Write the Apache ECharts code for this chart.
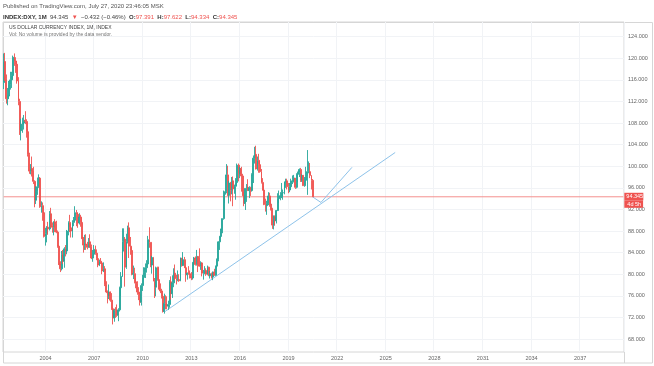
<!DOCTYPE html>
<html><head><meta charset="utf-8">
<script src="https://cdn.jsdelivr.net/npm/echarts@6/dist/echarts.min.js"></script>
<style>html,body{margin:0;padding:0;background:#fff}#c{width:654px;height:366px}</style>
</head><body><div id="c"></div>
<script>
// ---- data ----
const firstMonth = [2001, 6];     // first category (year, month)
const monthCount = 460;           // months shown on the time axis
const tickYears = [2004, 2007, 2010, 2013, 2016, 2019, 2022, 2025, 2028, 2031, 2034, 2037];
const lastPrice = 94.345;

// monthly candles, rows are [open, high, low, close]
const y2001 = [[115.5,120.9,114.3,119.4],[119.4,121.0,115.8,116.3],[116.3,117.0,111.6,112.5],[112.5,114.5,111.3,113.0],[113.0,115.8,112.5,115.2],[115.2,117.5,114.2,116.0],[116.0,117.5,114.5,116.8]];
const y2002 = [[116.8,120.5,116.2,120.2],[120.2,120.9,118.6,119.5],[119.5,120.2,117.3,118.9],[118.9,119.5,115.3,115.8],[115.8,116.5,111.3,112.0],[112.0,112.5,105.8,106.6],[106.6,108.8,104.8,107.8],[107.8,109.0,106.2,108.0],[108.0,109.5,106.8,108.5],[108.5,110.2,107.8,108.3],[108.3,108.7,105.3,106.4],[106.4,106.9,101.8,102.2]];
const y2003 = [[102.2,102.5,98.6,99.1],[99.1,100.4,98.5,99.6],[99.6,101.8,98.1,99.2],[99.2,99.9,96.7,97.2],[97.2,97.4,92.4,93.7],[93.7,96.3,93.0,95.3],[95.3,97.9,94.7,96.2],[96.2,98.5,96.0,97.8],[97.8,98.0,92.3,92.5],[92.5,93.5,91.4,92.7],[92.7,93.3,89.9,91.4],[91.4,91.5,86.8,87.0]];
const y2004 = [[87.0,88.6,85.3,87.5],[87.5,88.9,85.9,88.7],[88.7,89.7,87.3,88.4],[88.4,91.7,88.1,91.2],[91.2,92.3,88.6,89.0],[89.0,89.6,87.7,88.7],[88.7,89.8,87.2,89.7],[89.7,90.2,87.8,89.4],[89.4,89.9,87.6,87.8],[87.8,88.1,84.9,85.2],[85.2,85.4,81.7,81.9],[81.9,82.4,80.4,81.0]];
const y2005 = [[81.0,84.3,80.7,83.6],[83.6,84.5,81.9,82.4],[82.4,85.0,81.2,84.7],[84.7,85.4,83.3,84.3],[84.3,88.2,83.7,88.0],[88.0,89.8,87.2,89.6],[89.6,91.0,87.8,88.6],[88.6,89.3,86.8,88.0],[88.0,90.0,86.8,89.6],[89.6,90.6,88.9,90.0],[90.0,92.6,89.9,91.4],[91.4,91.9,88.9,91.1]];
const y2006 = [[91.1,91.4,88.6,89.5],[89.5,91.3,89.2,90.6],[90.6,91.0,88.8,89.6],[89.6,90.4,86.5,86.7],[86.7,86.9,84.0,85.4],[85.4,87.3,84.5,85.6],[85.6,87.4,84.5,85.4],[85.4,86.0,84.6,85.0],[85.0,86.7,84.9,86.0],[86.0,87.4,84.9,85.1],[85.1,85.5,82.8,83.0],[83.0,84.5,82.3,83.7]];
const y2007 = [[83.7,85.4,83.4,84.6],[84.6,85.3,83.6,83.9],[83.9,84.6,82.6,82.9],[82.9,83.0,81.3,81.7],[81.7,82.7,81.5,82.4],[82.4,83.0,81.9,82.1],[82.1,82.3,80.0,80.6],[80.6,82.2,80.4,81.0],[81.0,81.5,77.8,78.1],[78.1,78.7,76.5,76.7],[76.7,77.0,74.6,76.0],[76.0,78.1,75.4,76.7]];
const y2008 = [[76.7,76.8,74.9,75.2],[75.2,76.5,73.4,73.6],[73.6,73.9,70.7,71.9],[71.9,73.6,71.2,73.3],[73.3,73.9,71.9,73.1],[73.1,74.4,72.1,72.4],[72.4,73.7,71.3,73.4],[73.4,77.7,73.1,77.5],[77.5,80.4,76.0,79.6],[79.6,88.5,79.5,86.0],[86.0,88.5,84.2,86.5],[86.5,86.9,77.7,81.3]];
const y2009 = [[81.3,87.5,81.0,86.0],[86.0,89.0,85.7,88.6],[88.6,89.6,83.0,85.2],[85.2,86.9,83.6,84.4],[84.4,85.0,79.8,80.0],[80.0,81.6,79.1,80.1],[80.1,81.2,78.3,78.6],[78.6,79.3,77.4,78.3],[78.3,78.7,76.2,76.7],[76.7,77.6,75.2,76.3],[76.3,76.4,74.2,74.8],[74.8,78.3,74.2,77.9]];
const y2010 = [[77.9,79.9,76.9,79.4],[79.4,81.3,79.0,80.3],[80.3,82.0,79.3,81.2],[81.2,82.6,80.3,81.9],[81.9,87.1,81.7,86.4],[86.4,88.7,84.9,85.9],[85.9,85.9,81.3,81.7],[81.7,83.4,80.1,83.1],[83.1,83.2,78.7,78.7],[78.7,79.3,75.6,77.6],[77.6,81.4,75.9,81.2],[81.2,81.4,78.8,79.0]];
const y2011 = [[79.0,81.4,77.2,77.2],[77.2,78.3,76.5,76.9],[76.9,77.3,75.5,75.9],[75.9,76.1,72.9,73.1],[73.1,76.4,72.7,74.6],[74.6,76.1,73.5,74.3],[74.3,75.9,73.5,74.1],[74.1,75.1,73.4,74.4],[74.4,78.9,73.8,78.6],[78.6,79.6,75.3,76.4],[76.4,79.8,75.6,78.4],[78.4,81.1,77.6,80.2]];
const y2012 = [[80.2,81.8,78.9,79.2],[79.2,79.9,78.1,78.9],[78.9,80.7,78.7,79.0],[79.0,80.0,78.6,78.8],[78.8,83.1,78.7,83.0],[83.0,83.0,81.4,81.6],[81.6,84.1,81.6,82.7],[82.7,83.2,81.3,81.2],[81.2,81.5,78.6,79.9],[79.9,80.3,79.0,80.2],[80.2,81.5,79.9,80.1],[80.1,80.7,79.2,79.8]];
const y2013 = [[79.8,80.4,78.9,79.3],[79.3,82.2,79.0,82.2],[82.2,83.2,81.6,83.0],[83.0,83.3,81.6,81.8],[81.8,84.5,81.6,83.3],[83.3,83.3,80.4,83.1],[83.1,84.8,81.4,81.5],[81.5,82.4,80.8,82.1],[82.1,82.2,79.6,80.2],[80.2,80.8,79.0,80.2],[80.2,81.5,80.0,80.7],[80.7,81.1,79.7,80.0]];
const y2014 = [[80.0,81.6,79.8,81.3],[81.3,81.4,79.7,79.7],[79.7,80.6,79.2,80.1],[80.1,80.3,79.2,79.5],[79.5,80.5,78.9,80.4],[80.4,81.0,79.7,79.8],[79.8,81.6,79.7,81.5],[81.5,82.9,81.2,82.8],[82.8,86.1,82.4,86.0],[86.0,87.1,84.5,87.0],[87.0,88.4,86.7,88.4],[88.4,90.3,87.6,90.3]];
const y2015 = [[90.3,95.5,90.1,94.8],[94.8,95.3,93.2,95.3],[95.3,100.4,95.0,98.4],[98.4,100.1,94.5,94.6],[94.6,97.3,93.1,96.9],[96.9,97.1,93.5,95.5],[95.5,98.0,94.8,97.3],[97.3,98.1,92.6,95.8],[95.8,96.6,94.9,96.3],[96.3,97.8,93.8,97.0],[97.0,100.5,96.6,100.2],[100.2,100.5,97.2,98.6]];
const y2016 = [[98.6,99.9,97.8,99.6],[99.6,99.9,95.3,98.2],[98.2,98.6,94.5,94.6],[94.6,95.2,92.6,93.1],[93.1,95.9,91.9,95.9],[95.9,96.7,93.4,96.1],[96.1,97.6,95.4,95.5],[95.5,96.3,94.1,96.0],[96.0,96.2,94.5,95.5],[95.5,98.7,95.3,98.4],[98.4,102.0,96.9,101.5],[101.5,103.6,100.5,102.2]];
const y2017 = [[102.2,103.8,99.4,99.5],[99.5,101.8,99.2,101.1],[101.1,102.3,98.8,100.3],[100.3,101.0,98.8,99.0],[99.0,99.5,96.8,97.0],[97.0,97.8,95.5,95.6],[95.6,96.3,92.8,92.9],[92.9,94.0,91.6,92.7],[92.7,93.6,91.0,93.1],[93.1,95.2,92.8,94.5],[94.5,95.1,92.5,93.0],[93.0,94.2,91.8,92.1]];
const y2018 = [[92.1,92.3,88.4,89.1],[89.1,90.9,88.3,90.6],[90.6,90.9,89.0,89.9],[89.9,91.9,89.4,91.8],[91.8,95.0,91.7,94.0],[94.0,95.5,93.2,94.5],[94.5,95.2,93.7,94.5],[94.5,96.9,94.1,95.1],[95.1,95.7,93.8,95.1],[95.1,97.2,94.8,97.1],[97.1,97.7,96.0,97.3],[97.3,97.7,95.7,96.2]];
const y2019 = [[96.2,96.9,95.0,95.6],[95.6,96.9,95.2,96.2],[96.2,97.7,95.8,97.3],[97.3,98.3,96.7,97.5],[97.5,98.4,97.0,97.8],[97.8,97.8,95.8,96.1],[96.1,98.7,95.9,98.5],[98.5,99.0,97.1,98.9],[98.9,99.6,98.0,99.4],[99.4,99.7,97.1,97.4],[97.4,98.5,97.1,98.3],[98.3,98.4,96.4,96.4]];
const y2020 = [[96.4,98.0,96.2,97.4],[97.4,99.9,97.3,98.1],[98.1,103.0,94.7,99.0],[99.0,100.9,98.7,99.0],[99.0,100.6,97.8,98.3],[98.3,98.3,95.7,97.4],[97.391,97.622,94.334,94.345]];

// drawn trend lines: [month, price]
const trendLong = [['2011-05', 73.0], ['2025-08', 102.55]];
const trendShort = [['2020-07', 94.3], ['2021-01', 93.3], ['2022-12', 99.8]];

// ---- build ----
const categories = [];
for (let i = 0; i < monthCount; i++) {
  const t = (firstMonth[0] * 12 + firstMonth[1] - 1) + i;
  const yy = Math.floor(t / 12), mm = t % 12 + 1;
  categories.push(yy + '-' + String(mm).padStart(2, '0'));
}
const rows = [].concat(y2001, y2002, y2003, y2004, y2005, y2006, y2007, y2008, y2009, y2010,
  y2011, y2012, y2013, y2014, y2015, y2016, y2017, y2018, y2019, y2020);
const candleData = rows.map(r => [r[0], r[3], r[2], r[1]]);
const priceLine = [[categories[0], lastPrice], [categories[categories.length - 1], lastPrice]];

const isTick = (idx, val) => {
  const v = categories[idx] || val;
  return v.slice(5) === '01' && tickYears.indexOf(+v.slice(0, 4)) >= 0;
};

const FONT = 'Liberation Sans, Arial, sans-serif';
const UP = '#26a69a', DOWN = '#ef5350';

const chart = echarts.init(document.getElementById('c'), null, {renderer: 'canvas'});
chart.setOption({
  animation: false,
  backgroundColor: '#fff',
  grid: [
    {left: 3, right: 30, top: 15.1, bottom: 5.4, show: false},
    {left: 3, right: 30, top: 22, bottom: 14, show: true, borderColor: '#d6d6d6', borderWidth: 1, backgroundColor: 'transparent'}
  ],
  xAxis: [
    {type: 'category', gridIndex: 0, data: categories, boundaryGap: true, show: false},
    {type: 'category', gridIndex: 1, data: categories, boundaryGap: true,
      axisLine: {show: false}, axisTick: {show: false},
      axisLabel: {interval: isTick, formatter: v => v.slice(0, 4), color: '#666', fontSize: 5.5, fontFamily: FONT, margin: 3},
      splitLine: {show: true, interval: isTick, lineStyle: {color: '#f1f3f6', width: 1}}
    }
  ],
  yAxis: [
    {type: 'value', gridIndex: 0, position: 'right', min: 64, max: 128, interval: 4,
      axisLine: {show: false}, axisTick: {show: false},
      axisLabel: {showMinLabel: false, showMaxLabel: false, color: '#666', fontSize: 5.5, fontFamily: FONT, margin: 4,
        formatter: v => v.toFixed(3)},
      splitLine: {show: true, showMinLine: false, showMaxLine: false, lineStyle: {color: '#f1f3f6', width: 1}}
    },
    {type: 'value', gridIndex: 1, position: 'right', min: 0, max: 1,
      axisLine: {show: false}, axisTick: {show: false}, axisLabel: {show: false}, splitLine: {show: false}}
  ],
  series: [
    {type: 'line', xAxisIndex: 0, yAxisIndex: 0, data: priceLine, symbol: 'none', silent: true,
      lineStyle: {color: '#f4908e', width: 1}, z: 2,
      endLabel: {show: true, distance: 1, padding: [7, 0, 0, 0],
        formatter: '{a|' + lastPrice.toFixed(3) + '}\n{b|4d 5h}',
        rich: {
          a: {backgroundColor: '#ef5350', color: '#fff', fontSize: 5.5, fontFamily: FONT, padding: [1, 2, 0.5, 2], width: 15, align: 'left'},
          b: {backgroundColor: '#ef5350', color: '#fff', fontSize: 5.5, fontFamily: FONT, padding: [1, 2, 0.5, 3], align: 'left'}
        }}},
    {type: 'line', xAxisIndex: 0, yAxisIndex: 0, data: trendLong, symbol: 'none', silent: true,
      lineStyle: {color: '#8ec3ea', width: 1}, z: 3},
    {type: 'line', xAxisIndex: 0, yAxisIndex: 0, data: trendShort, symbol: 'none', silent: true,
      lineStyle: {color: '#8ec3ea', width: 1}, z: 3},
    {type: 'candlestick', xAxisIndex: 0, yAxisIndex: 0, data: candleData, barWidth: 1.4,
      itemStyle: {color: UP, color0: DOWN, borderColor: UP, borderColor0: DOWN, borderWidth: 1, opacity: 0.9},
      z: 4}
  ],
  graphic: [
    {type: 'rect', silent: true, z: 0, shape: {x: 3.5, y: 22.5, width: 649, height: 340.5},
      style: {fill: 'none', stroke: '#d6d6d6', lineWidth: 1}},
    {type: 'line', silent: true, z: 0, shape: {x1: 624.5, y1: 352, x2: 624.5, y2: 363},
      style: {stroke: '#d6d6d6', lineWidth: 1}},
    {type: 'text', silent: true, z: 10, x: 3, y: 3,
      style: {text: 'Published on TradingView.com, July 27, 2020 23:46:05 MSK', fill: '#555', font: '6px ' + FONT}},
    {type: 'text', silent: true, z: 10, x: 3, y: 11.5,
      style: {text: '{k|INDEX:DXY, 1M} {n|94.345} {r|\u25BC} {n|\u22120.432 (\u22120.46%)} {k|O:}{r|97.391} {k|H:}{r|97.622} {k|L:}{r|94.334} {k|C:}{r|94.345}',
        rich: {
          k: {fill: '#333', fontWeight: 'bold', fontSize: 6, fontFamily: FONT},
          n: {fill: '#444', fontSize: 6, fontFamily: FONT},
          r: {fill: '#ef5350', fontSize: 6, fontFamily: FONT}
        }}},
    {type: 'text', silent: true, z: 10, x: 9, y: 25.5,
      style: {text: 'US DOLLAR CURRENCY INDEX, 1M, INDEX', fill: '#444', font: '5px ' + FONT}},
    {type: 'text', silent: true, z: 10, x: 9, y: 32,
      style: {text: 'Vol: No volume is provided by the data vendor.', fill: '#777', font: '5px ' + FONT}}
  ]
});
</script></body></html>
